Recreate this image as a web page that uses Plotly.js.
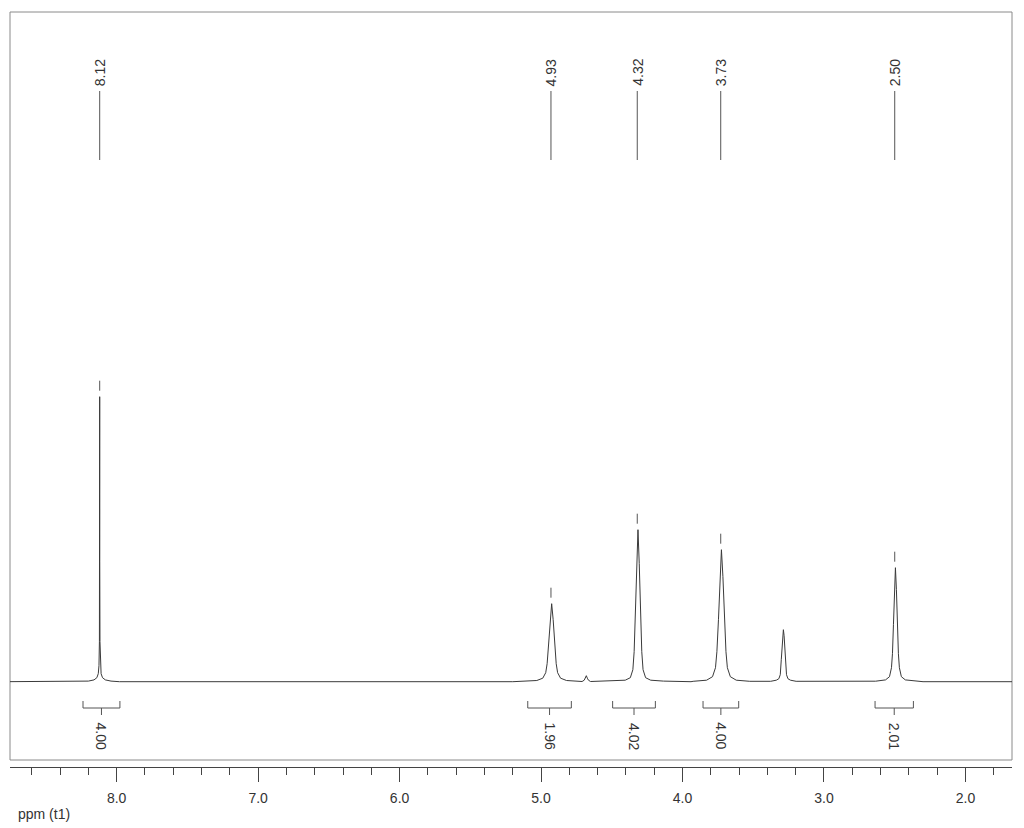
<!DOCTYPE html>
<html>
<head>
<meta charset="utf-8">
<script src="https://cdn.plot.ly/plotly-3.0.1.min.js"></script>
<style>html,body{margin:0;padding:0;background:#fff;}#chart{width:1024px;height:828px;}</style>
</head>
<body>
<div id="chart"></div>
<script>
// Spectrum trace: chemical shift (ppm) and intensity (arbitrary units)
const ppm = [
  8.80,
  8.20, 8.16, 8.14, 8.13, 8.125, 8.122, 8.1205, 8.12, 8.1195, 8.118, 8.115, 8.11, 8.10, 8.08, 8.04, 7.98,
  5.20, 5.125, 5.03, 4.988, 4.967, 4.957, 4.946, 4.9355, 4.925, 4.9145, 4.904, 4.893, 4.883, 4.862, 4.82, 4.74,
  4.71, 4.695, 4.687, 4.68, 4.673, 4.665, 4.65,
  4.495, 4.405, 4.369, 4.351, 4.342, 4.333, 4.324, 4.315, 4.306, 4.297, 4.288, 4.279, 4.261, 4.225, 4.135,
  3.94, 3.925, 3.83, 3.788, 3.767, 3.757, 3.746, 3.7355, 3.725, 3.7145, 3.704, 3.693, 3.683, 3.662, 3.62, 3.525,
  3.377, 3.337, 3.319, 3.309, 3.302, 3.297, 3.292, 3.287, 3.282, 3.277, 3.272, 3.265, 3.255, 3.237, 3.197,
  2.70, 2.635, 2.565, 2.537, 2.523, 2.516, 2.509, 2.502, 2.495, 2.488, 2.481, 2.474, 2.467, 2.453, 2.425, 2.355, 2.30,
  1.60
];
const intensity = [
  0,
  0.6, 1.8, 4, 8, 16, 40, 120, 285, 120, 40, 16, 8, 4, 1.8, 0.6, 0,
  0, 0.3, 1.2, 3.5, 9, 18, 39, 62, 78, 62, 39, 18, 9, 3.5, 1.2, 0.3,
  0.2, 1.5, 3.5, 6, 3.5, 1.5, 0.2,
  0.6, 1.5, 4, 12, 30, 66, 118, 152, 118, 66, 30, 12, 4, 1.5, 0.6,
  0, 0.4, 1.5, 5, 14, 30, 62, 105, 132, 105, 62, 30, 14, 5, 1.5, 0.4,
  0.4, 1.5, 3, 7, 22, 36, 46, 52, 46, 36, 22, 7, 3, 1.5, 0.4,
  0, 0.5, 1.8, 5, 14, 28, 57, 92, 114, 92, 57, 28, 14, 5, 1.8, 0.5, 0,
  0
];

// Peak labels
const labelPpm = [8.12, 4.93, 4.32, 3.73, 2.50];
const labelText = ['8.12', '4.93', '4.32', '3.73', '2.50'];
const peakTop = [285, 78, 152, 132, 114];

// Integrals
const intFrom = [8.238, 5.094, 4.494, 3.855, 2.639];
const intTo = [7.977, 4.786, 4.192, 3.603, 2.368];
const intValue = ['4.00', '1.96', '4.02', '4.00', '2.01'];

// Axis ticks
const tickVals = [8, 7, 6, 5, 4, 3, 2];
const tickText = ['8.0', '7.0', '6.0', '5.0', '4.0', '3.0', '2.0'];

const FONT = 'Arial, "Liberation Sans", sans-serif';
const DARK = '#333333';

const shapes = [];
const annotations = [];

// frame
shapes.push({type: 'rect', xref: 'paper', yref: 'paper', x0: 0, x1: 1, y0: 7 / 755, y1: 1,
  line: {color: '#8a8a8a', width: 1}, fillcolor: 'rgba(0,0,0,0)', layer: 'below'});

labelPpm.forEach((p, i) => {
  shapes.push({type: 'line', xref: 'x', yref: 'y', x0: p, x1: p, y0: 590.7, y1: 521.7,
    line: {color: '#555', width: 1}});
  shapes.push({type: 'line', xref: 'x', yref: 'y', x0: p, x1: p, y0: peakTop[i] + 6, y1: peakTop[i] + 16,
    line: {color: '#555', width: 1}});
  annotations.push({x: p, y: 609.2, xref: 'x', yref: 'y', text: labelText[i], showarrow: false,
    textangle: -90, xanchor: 'center', yanchor: 'middle', font: {family: FONT, size: 14, color: DARK}});
});

intFrom.forEach((a, i) => {
  const b = intTo[i];
  const c = (a + b) / 2;
  const col = '#555';
  shapes.push({type: 'line', xref: 'x', yref: 'y', x0: a, x1: a, y0: -19.3, y1: -26.3, line: {color: col, width: 1}});
  shapes.push({type: 'line', xref: 'x', yref: 'y', x0: b, x1: b, y0: -19.3, y1: -26.3, line: {color: col, width: 1}});
  shapes.push({type: 'line', xref: 'x', yref: 'y', x0: a, x1: b, y0: -26.3, y1: -26.3, line: {color: col, width: 1}});
  shapes.push({type: 'line', xref: 'x', yref: 'y', x0: c, x1: c, y0: -26.3, y1: -33.3, line: {color: col, width: 1}});
  annotations.push({x: c, y: -54.3, xref: 'x', yref: 'y', text: intValue[i], showarrow: false,
    textangle: 90, xanchor: 'center', yanchor: 'middle', font: {family: FONT, size: 14, color: DARK}});
});

annotations.push({x: 6 / 1002, y: -47 / 755, xref: 'paper', yref: 'paper', text: 'ppm (t1)', showarrow: false,
  xanchor: 'left', yanchor: 'middle', font: {family: FONT, size: 14, color: DARK}});

const trace = {
  x: ppm, y: intensity, type: 'scatter', mode: 'lines',
  line: {color: '#3a3a3a', width: 1}, hoverinfo: 'skip', showlegend: false
};

const layout = {
  width: 1024, height: 828,
  margin: {l: 10, r: 12, t: 12, b: 61, pad: 0},
  paper_bgcolor: '#ffffff', plot_bgcolor: '#ffffff',
  font: {family: FONT, size: 14, color: DARK},
  showlegend: false,
  xaxis: {
    range: [8.754, 1.671], autorange: false,
    showgrid: false, zeroline: false,
    showline: true, linecolor: '#444', linewidth: 1,
    ticks: 'outside', ticklen: 14, tickcolor: '#444', tickwidth: 1,
    tickvals: tickVals, ticktext: tickText,
    ticklabelstandoff: 4,
    tickfont: {family: FONT, size: 14, color: DARK},
    minor: {dtick: 0.2, tick0: 0, ticks: 'outside', ticklen: 7, tickcolor: '#444', tickwidth: 1, showgrid: false}
  },
  yaxis: {
    range: [-85.3, 669.7], autorange: false, visible: false, showgrid: false, zeroline: false
  },
  shapes: shapes,
  annotations: annotations
};

Plotly.newPlot('chart', [trace], layout, {displayModeBar: false, staticPlot: true});
</script>
</body>
</html>
